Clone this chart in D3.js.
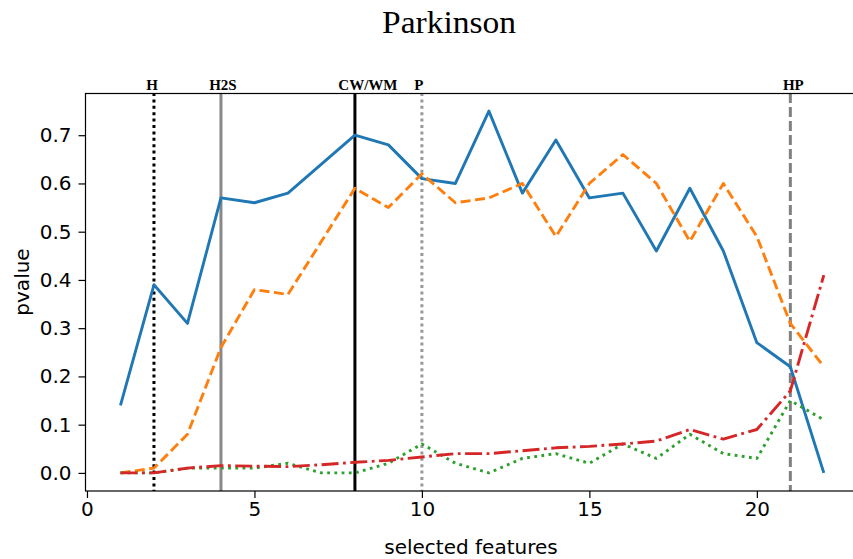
<!DOCTYPE html>
<html><head><meta charset="utf-8">
<script src="https://cdn.jsdelivr.net/npm/d3@7"></script>
<style>body{margin:0;background:#fff}svg{display:block}</style>
</head><body>
<svg id="c" width="853" height="559"></svg>
<script>
const features = [1,2,3,4,5,6,7,8,9,10,11,12,13,14,15,16,17,18,19,20,21,22];
const blueVals   = [0.14,0.39,0.31,0.57,0.56,0.58,0.64,0.70,0.68,0.61,0.60,0.75,0.58,0.69,0.57,0.58,0.46,0.59,0.46,0.27,0.22,0.00];
const orangeVals = [0.00,0.01,0.08,0.26,0.38,0.37,0.48,0.59,0.55,0.62,0.56,0.57,0.60,0.49,0.60,0.66,0.60,0.48,0.60,0.49,0.31,0.22];
const greenVals  = [0.00,0.00,0.01,0.01,0.01,0.02,0.00,0.00,0.02,0.06,0.02,0.00,0.03,0.04,0.02,0.06,0.03,0.08,0.04,0.03,0.15,0.11];
const redVals    = [0.00,0.00,0.01,0.015,0.014,0.013,0.017,0.022,0.026,0.033,0.04,0.04,0.046,0.052,0.055,0.06,0.066,0.09,0.07,0.09,0.17,0.41];
const markerNames = ["H","H2S","CW/WM","P","HP"];
const markerPos   = [2,4,8,10,21];
const xTicks = [0,5,10,15,20];
const yTicks = [0.0,0.1,0.2,0.3,0.4,0.5,0.6,0.7];

const svg = d3.select("#c");
const x = d3.scaleLinear().domain([-0.05,23.05]).range([85.3,859]);
const y = d3.scaleLinear().domain([-0.0375,0.7875]).range([491,93]);

// title
svg.append("text").attr("x",449).attr("y",33).attr("text-anchor","middle")
  .attr("font-family","Liberation Serif, serif").attr("font-size",31)
  .attr("textLength",134).attr("lengthAdjust","spacingAndGlyphs").text("Parkinson");

// vertical marker lines
const mStyle = [
  {stroke:"#000", dash:"3,3.4", dx:-2},
  {stroke:"#888", dash:null, dx:2},
  {stroke:"#000", dash:null, dx:13},
  {stroke:"#999", dash:"3,3.4", dx:-3},
  {stroke:"#808080", dash:"10,4", dx:3}
];
markerPos.forEach((p,i)=>{
  const l = svg.append("line").attr("x1",x(p)).attr("x2",x(p)).attr("y1",93).attr("y2",491)
    .attr("stroke",mStyle[i].stroke).attr("stroke-width",3);
  if (mStyle[i].dash) l.attr("stroke-dasharray",mStyle[i].dash);
  svg.append("text").attr("x",x(p)+mStyle[i].dx).attr("y",90).attr("text-anchor","middle")
    .attr("font-family","Liberation Serif, serif").attr("font-weight","bold").attr("font-size",15)
    .text(markerNames[i]);
});

// data lines
const line = d3.line().x((d,i)=>x(features[i])).y(d=>y(d));
const series = [
  {v:blueVals, c:"#1f77b4", dash:null},
  {v:orangeVals, c:"#ff7f0e", dash:"10,4.5"},
  {v:greenVals, c:"#2ca02c", dash:"2.8,4.4"},
  {v:redVals, c:"#d62728", dash:"17,4.5,2.8,4.5"}
];
series.forEach(s=>{
  const p = svg.append("path").attr("d",line(s.v)).attr("fill","none")
    .attr("stroke",s.c).attr("stroke-width",2.9).attr("stroke-linejoin","round");
  if (s.dash) p.attr("stroke-dasharray",s.dash);
});

// spines
svg.append("rect").attr("x",85.5).attr("y",93.5).attr("width",859-85.5).attr("height",491-93.5)
  .attr("fill","none").attr("stroke","#000").attr("stroke-width",1.2);

// axes
const xAxis = d3.axisBottom(x).tickValues(xTicks).tickFormat(d3.format("d")).tickSize(7).tickPadding(4);
const gx = svg.append("g").attr("transform","translate(0,491)").call(xAxis);
gx.select(".domain").remove();
gx.selectAll("text").attr("font-family","DejaVu Sans, sans-serif").attr("font-size",20).attr("fill","#000");
gx.selectAll("line").attr("stroke","#000").attr("stroke-width",1.2);

const yAxis = d3.axisLeft(y).tickValues(yTicks).tickFormat(d3.format(".1f")).tickSize(7).tickPadding(7);
const gy = svg.append("g").attr("transform","translate(85.5,0)").call(yAxis);
gy.select(".domain").remove();
gy.selectAll("text").attr("font-family","DejaVu Sans, sans-serif").attr("font-size",20).attr("fill","#000");
gy.selectAll("line").attr("stroke","#000").attr("stroke-width",1.2);

// axis labels
svg.append("text").attr("x",471).attr("y",554).attr("text-anchor","middle")
  .attr("font-family","DejaVu Sans, sans-serif").attr("font-size",20).text("selected features");
svg.append("text").attr("transform","translate(29,282) rotate(-90)").attr("text-anchor","middle")
  .attr("font-family","DejaVu Sans, sans-serif").attr("font-size",20).text("pvalue");
</script>
</body></html>
